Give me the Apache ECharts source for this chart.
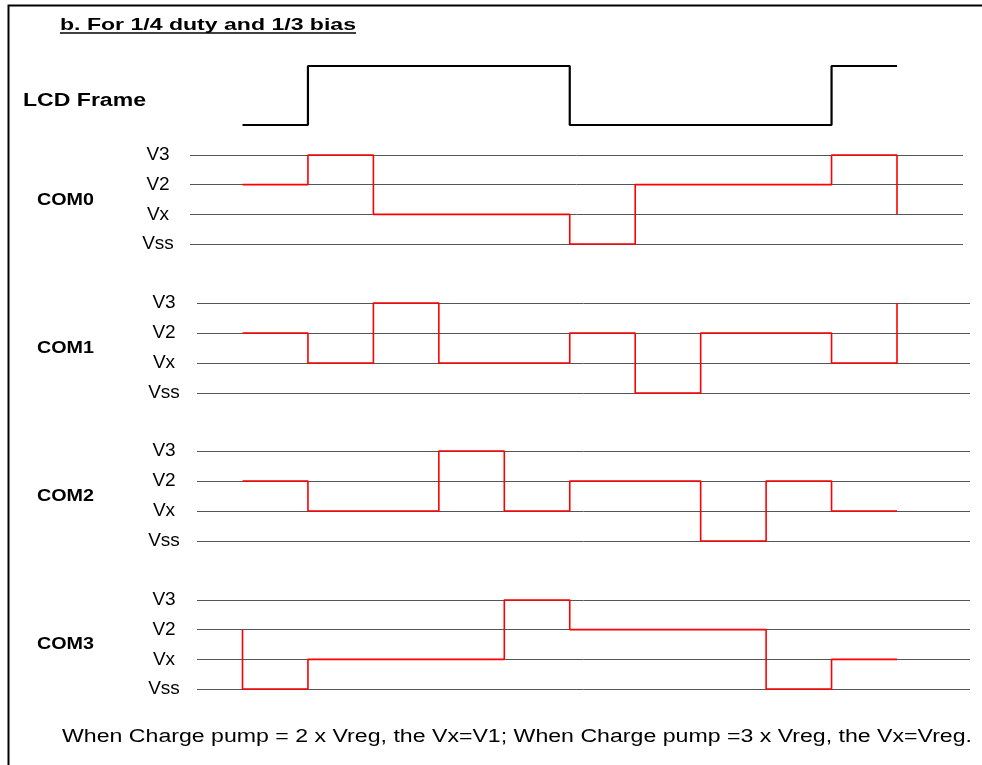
<!DOCTYPE html>
<html>
<head>
<meta charset="utf-8">
<script src="https://cdn.jsdelivr.net/npm/echarts@6/dist/echarts.min.js"></script>
<style>
html,body{margin:0;padding:0;background:#fff;}
#chart{width:982px;height:765px;}
</style>
</head>
<body>
<div id="chart"></div>
<script>
// ---- data ----
const LEVEL_NAMES = ['Vss', 'Vx', 'V2', 'V3'];      // y-axis tick labels (0..3)
const FRAME_LEVELS = [0, 1, 1, 1, 1, 0, 0, 0, 0, 1]; // LCD Frame low/high per slot
const FRAME_END = null;
const COM0_LEVELS = [2, 3, 1, 1, 1, 0, 2, 2, 2, 3];
const COM0_START = null, COM0_END = 1;
const COM1_LEVELS = [2, 1, 3, 1, 1, 2, 0, 2, 2, 1];
const COM1_START = null, COM1_END = 3;
const COM2_LEVELS = [2, 1, 1, 3, 1, 2, 2, 0, 2, 1];
const COM2_START = null, COM2_END = null;
const COM3_LEVELS = [0, 1, 1, 1, 3, 2, 2, 2, 0, 1];
const COM3_START = 2, COM3_END = null;
const ROW_NAMES = ['COM0', 'COM1', 'COM2', 'COM3'];
const TITLE = 'b. For 1/4 duty and 1/3 bias';
const FRAME_LABEL = 'LCD Frame';
const FOOTNOTE = 'When Charge pump = 2 x Vreg, the Vx=V1; When Charge pump =3 x Vreg, the Vx=Vreg.';

// ---- layout ----
const X0 = 242.5, SLOT = 65.45;   // pixel of slot 0 start, pixel width per slot
const FONT = '"Liberation Sans", Arial, sans-serif';

function buildSteps(levels, start, end) {
  const pts = [];
  if (start != null) pts.push([0, start]);
  levels.forEach((v, i) => { pts.push([i, v]); pts.push([i + 1, v]); });
  const last = levels[levels.length - 1];
  if (end != null && end !== last) pts.push([levels.length, end]);
  return pts;
}
function xRange(left, right) {
  return { min: (left - X0) / SLOT, max: (right - X0) / SLOT };
}

const rows = [
  { levels: COM0_LEVELS, start: COM0_START, end: COM0_END, top: 155, bottom: 244, left: 190, right: 963, labelX: 158 },
  { levels: COM1_LEVELS, start: COM1_START, end: COM1_END, top: 303, bottom: 393, left: 197, right: 970, labelX: 164 },
  { levels: COM2_LEVELS, start: COM2_START, end: COM2_END, top: 451, bottom: 541, left: 197, right: 970, labelX: 164 },
  { levels: COM3_LEVELS, start: COM3_START, end: COM3_END, top: 600, bottom: 689, left: 197, right: 970, labelX: 164 }
];
const rowLabelY = [200.5, 348.5, 496.5, 644.5];

const grids = [], xAxes = [], yAxes = [], series = [];

// LCD frame grid
grids.push({ left: 190, top: 66, width: 773, height: 59 });
xAxes.push(Object.assign({ type: 'value', gridIndex: 0, show: false }, xRange(190, 963)));
yAxes.push({ type: 'value', gridIndex: 0, min: 0, max: 1, show: false });
series.push({
  type: 'line', xAxisIndex: 0, yAxisIndex: 0, showSymbol: false, symbol: 'none',
  data: buildSteps(FRAME_LEVELS, null, FRAME_END),
  lineStyle: { color: '#000', width: 2.2 }, clip: false
});

rows.forEach((r, k) => {
  const gi = k + 1;
  grids.push({ left: r.left, top: r.top, width: r.right - r.left, height: r.bottom - r.top });
  xAxes.push(Object.assign({ type: 'value', gridIndex: gi, show: false }, xRange(r.left, r.right)));
  yAxes.push({
    type: 'value', gridIndex: gi, min: 0, max: 3, interval: 1,
    axisLine: { show: false }, axisTick: { show: false },
    splitLine: { show: true, lineStyle: { color: '#555', width: 1 } },
    axisLabel: {
      formatter: v => LEVEL_NAMES[v], align: 'center', margin: r.left - r.labelX,
      color: '#000', fontSize: 19, fontFamily: FONT
    }
  });
  series.push({
    type: 'line', xAxisIndex: gi, yAxisIndex: gi, showSymbol: false, symbol: 'none',
    data: buildSteps(r.levels, r.start, r.end),
    lineStyle: { color: '#ff0000', width: 1.6 }, clip: false, z: 5
  });
});

// text helpers: stretch horizontally to the reference widths
const ctx = document.createElement('canvas').getContext('2d');
function stretchedText(text, x, y, size, bold, targetW) {
  const font = (bold ? 'bold ' : '') + size + 'px ' + FONT;
  ctx.font = font;
  const w = ctx.measureText(text).width;
  return {
    type: 'text', x: x, y: y, scaleX: targetW / w, scaleY: 1,
    style: { text: text, font: font, fill: '#000', textAlign: 'left', textVerticalAlign: 'middle' }
  };
}

const graphics = [
  { type: 'rect', shape: { x: 8.5, y: 5.5, width: 1200, height: 1200 }, style: { fill: 'none', stroke: '#000', lineWidth: 2 } },
  stretchedText(TITLE, 60, 25.5, 17, true, 296),
  { type: 'line', shape: { x1: 60, y1: 33, x2: 356, y2: 33 }, style: { stroke: '#000', lineWidth: 1.5 } },
  stretchedText(FRAME_LABEL, 23, 101, 17.5, true, 123),
  stretchedText(FOOTNOTE, 62, 737, 18, false, 910)
];
ROW_NAMES.forEach((n, k) => graphics.push(stretchedText(n, 37, rowLabelY[k], 17, true, 57)));

const chart = echarts.init(document.getElementById('chart'), null, { renderer: 'canvas' });
chart.setOption({
  animation: false,
  backgroundColor: '#fff',
  grid: grids, xAxis: xAxes, yAxis: yAxes, series: series,
  graphic: graphics
});
</script>
</body>
</html>
